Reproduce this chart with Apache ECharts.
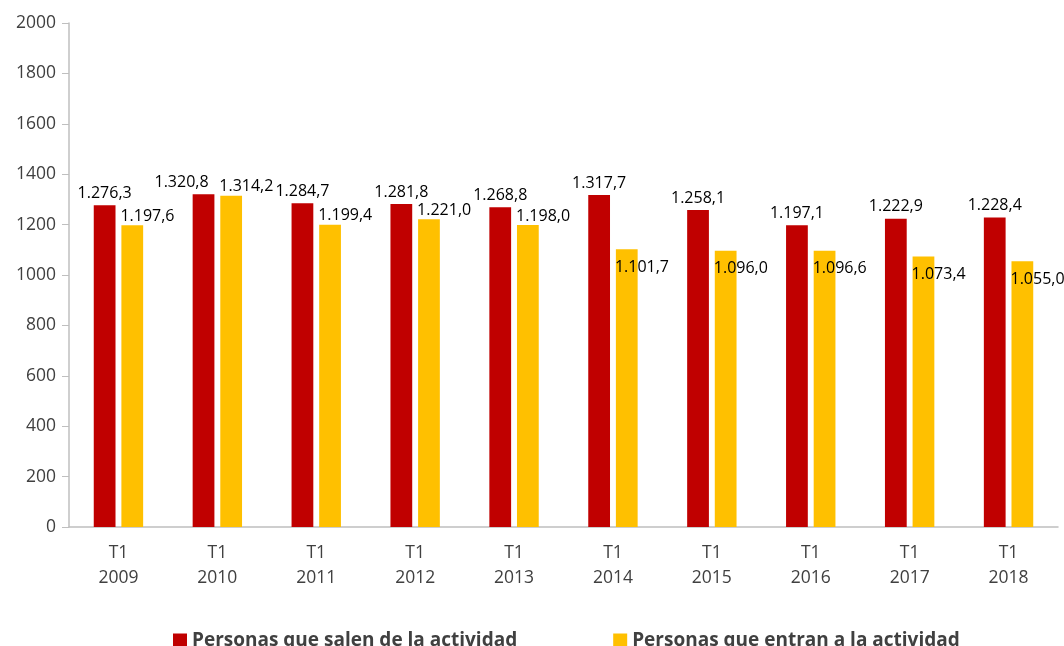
<!DOCTYPE html>
<html><head><meta charset="utf-8">
<script src="https://cdn.jsdelivr.net/npm/echarts@6/dist/echarts.min.js"></script>
<style>html,body{margin:0;padding:0;background:#fff}#c{width:1064px;height:646px}</style>
</head><body><div id="c"></div>
<script>
var categories = ['T1\n2009','T1\n2010','T1\n2011','T1\n2012','T1\n2013','T1\n2014','T1\n2015','T1\n2016','T1\n2017','T1\n2018'];
var salen = [1276.3,1320.8,1284.7,1281.8,1268.8,1317.7,1258.1,1197.1,1222.9,1228.4];
var entran = [1197.6,1314.2,1199.4,1221.0,1198.0,1101.7,1096.0,1096.6,1073.4,1055.0];
var seriesNames = ['Personas que salen de la actividad','Personas que entran a la actividad'];

function fmt(v){
  var s = v.toFixed(1).split('.');
  var i = s[0];
  if (i.length > 3) i = i.slice(0, i.length-3) + '.' + i.slice(i.length-3);
  return i + ',' + s[1];
}
var FONT = '"Open Sans", sans-serif';
// red labels: move left when the neighbouring yellow bar is almost as tall (avoid overlap)
var salenData = salen.map(function(v, i){
  var item = {value: v};
  if (v - entran[i] < 40) item.label = {offset:[-22, 0]};
  return item;
});
// yellow labels: drop below the bar top when the red bar is much taller
var entranData = entran.map(function(v, i){
  var item = {value: v};
  if (salen[i] - v > 95) item.label = {offset:[0, 27]};
  return item;
});
var chart = echarts.init(document.getElementById('c'));
chart.setOption({
  animation:false,
  textStyle:{fontFamily:FONT},
  grid:{left:69,right:6,top:23,bottom:119,containLabel:false},
  legend:{
    bottom:-9,left:168,itemWidth:14,itemHeight:14,itemGap:96,
    icon:'rect',
    textStyle:{fontFamily:FONT,fontSize:19,fontWeight:'bold',color:'#404040'},
    data:seriesNames
  },
  xAxis:{
    type:'category',data:categories,
    axisLine:{lineStyle:{color:'#bfbfbf',width:1.5}},
    axisTick:{show:false},
    axisLabel:{color:'#404040',fontSize:17.5,lineHeight:25,margin:14,fontFamily:FONT}
  },
  yAxis:{
    type:'value',min:0,max:2000,interval:200,
    axisLine:{show:true,lineStyle:{color:'#bfbfbf',width:1.5}},
    axisTick:{show:true,length:7,lineStyle:{color:'#bfbfbf'}},
    splitLine:{show:false},
    axisLabel:{color:'#404040',fontSize:17.5,margin:13,fontFamily:FONT,
      formatter:function(v){return String(v);}}
  },
  series:[
    {name:seriesNames[0],type:'bar',data:salenData,barWidth:'22%',barGap:'27%',
     itemStyle:{color:'#C00000'},
     label:{show:true,position:'top',distance:4,color:'#000',fontSize:16,fontFamily:FONT,
       formatter:function(p){return fmt(p.value);}}},
    {name:seriesNames[1],type:'bar',data:entranData,barWidth:'22%',
     itemStyle:{color:'#FFC000'},
     label:{show:true,position:[-1,-17],align:'left',color:'#000',fontSize:16,fontFamily:FONT,
       formatter:function(p){return fmt(p.value);}}}
  ]
});
</script></body></html>
